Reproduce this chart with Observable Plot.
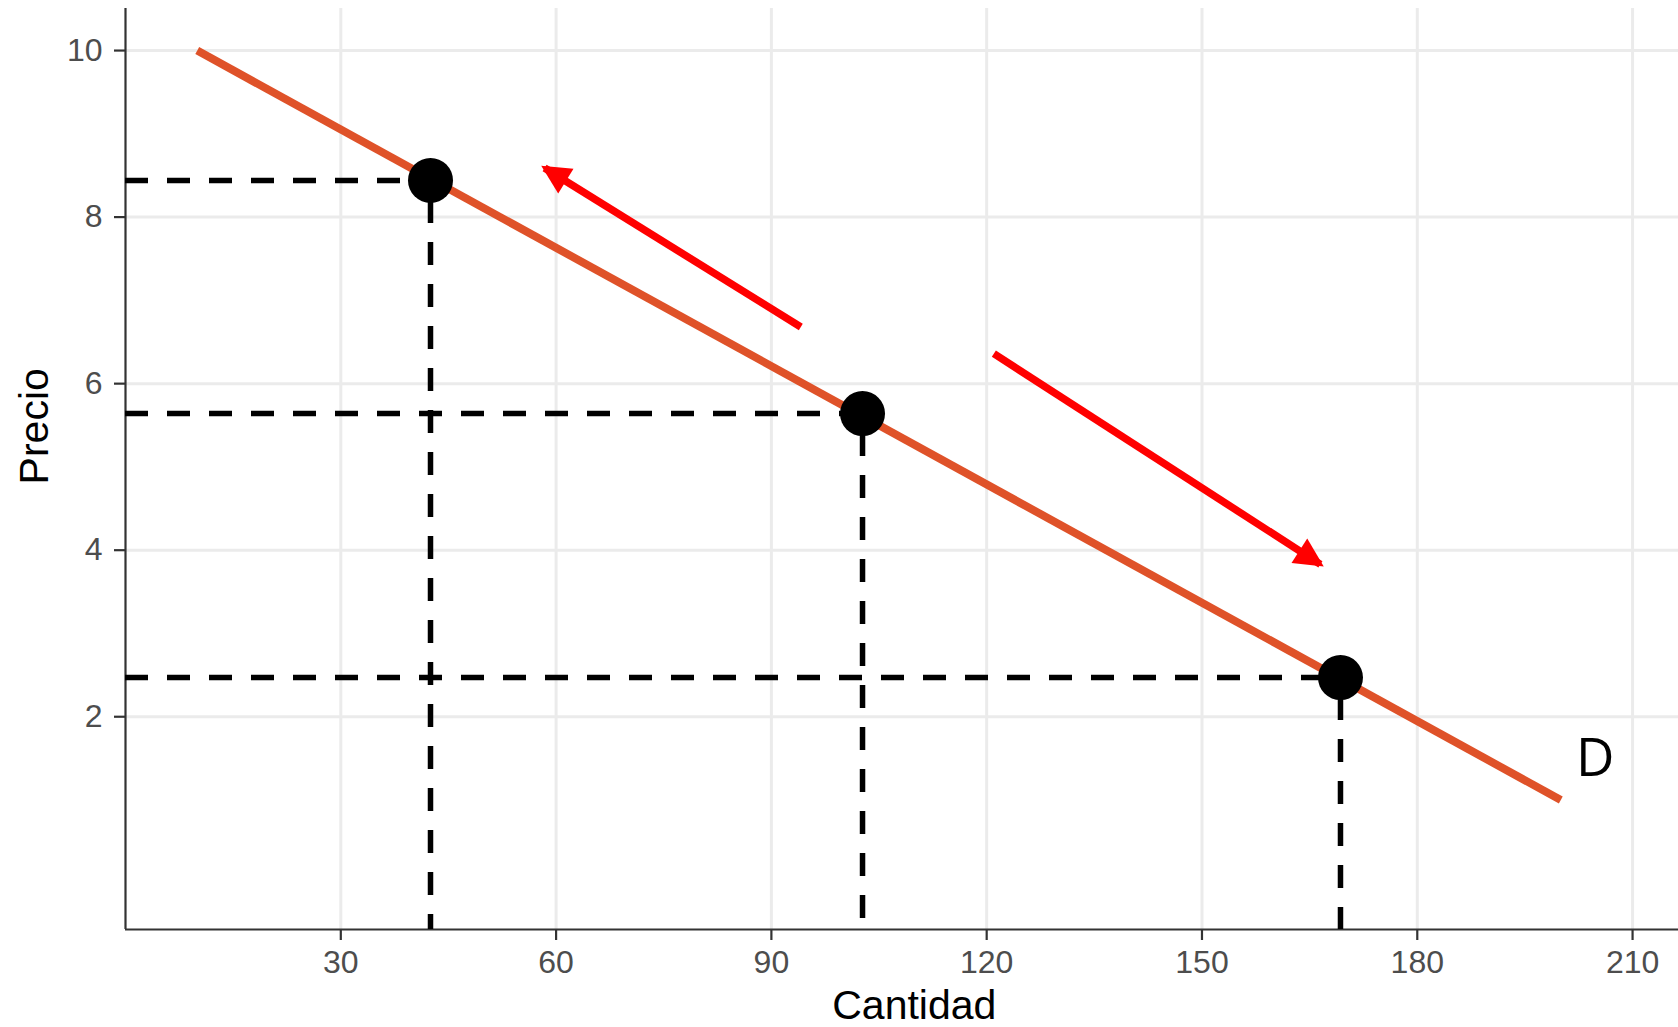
<!DOCTYPE html>
<html>
<head>
<meta charset="utf-8">
<script src="https://cdn.jsdelivr.net/npm/d3@7"></script>
<script src="https://cdn.jsdelivr.net/npm/@observablehq/plot@0.6"></script>
<style>
  html, body { margin: 0; padding: 0; background: #ffffff; }
  svg { display: block; }
</style>
</head>
<body>
<div id="chart"></div>
<script>
// ---- data ----
const demandQ = [10, 200];
const demandP = [10, 1];
const pointQ = [42.5, 102.7, 169.3];
const pointP = [8.44, 5.64, 2.47];
const arrowFromQ = [94.1, 121.0];
const arrowFromP = [6.68, 6.36];
const arrowToQ = [58.4, 166.5];
const arrowToP = [8.59, 3.83];
const curveLabel = ["D"];
const curveLabelQ = [204.8];
const curveLabelP = [1.49];
const xTicks = [30, 60, 90, 120, 150, 180, 210];
const yTicks = [2, 4, 6, 8, 10];
const xDomain = [0, 216.4];
const yDomain = [-0.555, 10.505];
const xTitle = "Cantidad";
const yTitle = "Precio";

// ---- tables built from arrays ----
const demand = demandQ.map((q, i) => ({q, p: demandP[i]}));
const points = pointQ.map((q, i) => ({q, p: pointP[i]}));
const arrows = arrowFromQ.map((q, i) => ({q1: q, p1: arrowFromP[i], q2: arrowToQ[i], p2: arrowToP[i]}));
const labels = curveLabel.map((t, i) => ({t, q: curveLabelQ[i], p: curveLabelP[i]}));

// filled triangular arrow head (like ggplot arrow(type = "closed"))
function filledArrow(color, context) {
  const doc = (context && context.document) || document;
  const ns = "http://www.w3.org/2000/svg";
  const m = doc.createElementNS(ns, "marker");
  m.setAttribute("viewBox", "-30 -17 36 34");
  m.setAttribute("markerWidth", 36);
  m.setAttribute("markerHeight", 34);
  m.setAttribute("markerUnits", "userSpaceOnUse");
  m.setAttribute("orient", "auto");
  m.setAttribute("refX", 0);
  m.setAttribute("refY", 0);
  const p = doc.createElementNS(ns, "path");
  p.setAttribute("d", "M4,0L-25,-14.5L-25,14.5Z");
  p.setAttribute("fill", color);
  p.setAttribute("stroke", "none");
  m.appendChild(p);
  return m;
}

const axisColor = "#333333";
const tickTextColor = "#4D4D4D";
const gridColor = "#EBEBEB";

const chart = Plot.plot({
  width: 1678,
  height: 1027,
  marginTop: 8,
  marginBottom: 98,
  marginLeft: 125,
  marginRight: 0,
  style: {fontFamily: "'Liberation Sans', Arial, Helvetica, sans-serif", background: "#ffffff"},
  x: {domain: xDomain, axis: null},
  y: {domain: yDomain, axis: null},
  marks: [
    Plot.gridX(xTicks, {stroke: gridColor, strokeOpacity: 1, strokeWidth: 3}),
    Plot.gridY(yTicks, {stroke: gridColor, strokeOpacity: 1, strokeWidth: 3}),
    Plot.axisX(xTicks, {
      anchor: "bottom", tickSize: 11, tickPadding: 10, fontSize: 32, tickFormat: d => `${d}`,
      stroke: axisColor, fill: tickTextColor, strokeWidth: 2.2, label: null
    }),
    Plot.axisY(yTicks, {
      anchor: "left", tickSize: 11, tickPadding: 12, fontSize: 32, tickFormat: d => `${d}`,
      stroke: axisColor, fill: tickTextColor, strokeWidth: 2.2, label: null
    }),
    Plot.ruleX([xDomain[0]], {stroke: axisColor, strokeWidth: 2.2}),
    Plot.ruleY([yDomain[0]], {stroke: axisColor, strokeWidth: 2.2}),
    // demand curve
    Plot.line(demand, {x: "q", y: "p", stroke: "#DF5229", strokeWidth: 8, strokeLinecap: "butt"}),
    // dashed guides
    Plot.ruleY(points, {y: "p", x1: () => xDomain[0], x2: "q", stroke: "black", strokeWidth: 5.5, strokeDasharray: "23,19"}),
    Plot.ruleX(points, {x: "q", y1: "p", y2: () => yDomain[0], stroke: "black", strokeWidth: 5.5, strokeDasharray: "23,19", strokeDashoffset: 22}),
    // points
    Plot.dot(points, {x: "q", y: "p", r: 22.5, fill: "black", stroke: "none"}),
    // red arrows
    Plot.link(arrows, {x1: "q1", y1: "p1", x2: "q2", y2: "p2", stroke: "#FF0000", strokeWidth: 7.5, strokeLinecap: "butt", markerEnd: filledArrow}),
    // curve label
    Plot.text(labels, {x: "q", y: "p", text: "t", fontSize: 53, fontFamily: "'Open Sans', sans-serif", fill: "black", textAnchor: "middle", lineAnchor: "middle"}),
    // axis titles
    Plot.text([xTitle], {frameAnchor: "bottom", dx: 12.3, dy: 76, fontSize: 41, fill: "black", textAnchor: "middle", lineAnchor: "middle"}),
    Plot.text([yTitle], {frameAnchor: "left", dx: -90.4, dy: -42.7, rotate: -90, fontSize: 41, fill: "black", textAnchor: "middle", lineAnchor: "middle"})
  ]
});

document.getElementById("chart").appendChild(chart);
</script>
</body>
</html>
